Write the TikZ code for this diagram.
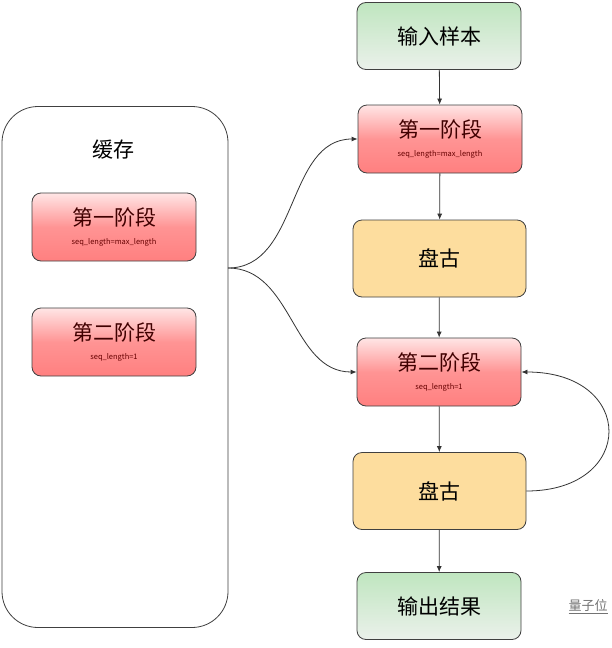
\documentclass[tikz,border=0pt]{standalone}
\usepackage{fontspec}
\setmainfont{Liberation Sans}
\newfontfamily\cjk{Noto Sans CJK SC}
\usetikzlibrary{arrows.meta}
\newcommand{\seqlen}[1]{\\[-5pt]{\fontsize{7.5}{8}\selectfont\color{red!40!black} #1}}

\begin{document}
\begin{tikzpicture}[x=1pt,y=-1pt]
                        \tikzstyle{box}=[draw=black!75, line width=0.8pt, rounded corners=9pt, align=center, inner sep=0pt]
                        \tikzstyle{stage}=[box, minimum width=164pt, minimum height=68pt, top color=red!10, bottom color=red!50, middle color=red!42, text=red!25!black, font=\cjk\fontsize{21}{24}\selectfont]
                        \tikzstyle{model}=[box, minimum width=173pt, minimum height=77pt, fill=yellow!30!orange!35, font=\cjk\fontsize{21}{24}\selectfont]
                        \tikzstyle{io}=[box, minimum width=164pt, minimum height=67pt, top color=green!60!black!25, bottom color=green!30!black!8, font=\cjk\fontsize{21}{24}\selectfont]
                        \tikzstyle{flow}=[draw=black!80, line width=0.8pt, -{Latex[length=6pt,width=5pt]}]
                        \fill[white] (0,0) rectangle (612,648);
                        \useasboundingbox (0,0) rectangle (612,648);
                        % cache
                        \node[box, rounded corners=36pt, minimum width=226pt, minimum height=521pt, fill=white] (cache) at (115,367) {};
                        \node[font=\cjk\fontsize{21}{24}\selectfont] (cachelabel) at (113,150) {缓存};
                        \node[stage] (c1) at (114,227) {第一阶段\seqlen{seq\_length=max\_length}};
                        \node[stage] (c2) at (114,342) {第二阶段\seqlen{seq\_length=1}};
                        \coordinate (split) at (228,268);
                        % pipeline
                        \node[io] (input) at (439,36) {输入样本};
                        \node[stage] (s1) at (440,139) {第一阶段\seqlen{seq\_length=max\_length}};
                        \node[model] (pg1) at (439.5,258.5) {盘古};
                        \node[stage] (s2) at (439,372) {第二阶段\seqlen{seq\_length=1}};
                        \node[model] (pg2) at (439.5,491) {盘古};
                        \node[io] (output) at (439,606) {输出结果};
                        \node[font=\cjk\fontsize{13}{15}\selectfont, text=black!55] (mark) at (588,607) {\underline{量子位}};
                        \draw[flow] (input) -- (s1);
                        \draw[flow] (s1) -- (pg1);
                        \draw[flow] (pg1) -- (s2);
                        \draw[flow] (s2) -- (pg2);
                        \draw[flow] (pg2) -- (output);
                        \draw[flow] (split) to[out=0, in=180] (s1.west);
                        \draw[flow] (split) to[out=0, in=180] (s2.west);
                        \draw[flow] (pg2.east) .. controls +(110,0) and +(115,0) .. (s2.east);
                    \end{tikzpicture}
\end{document}
